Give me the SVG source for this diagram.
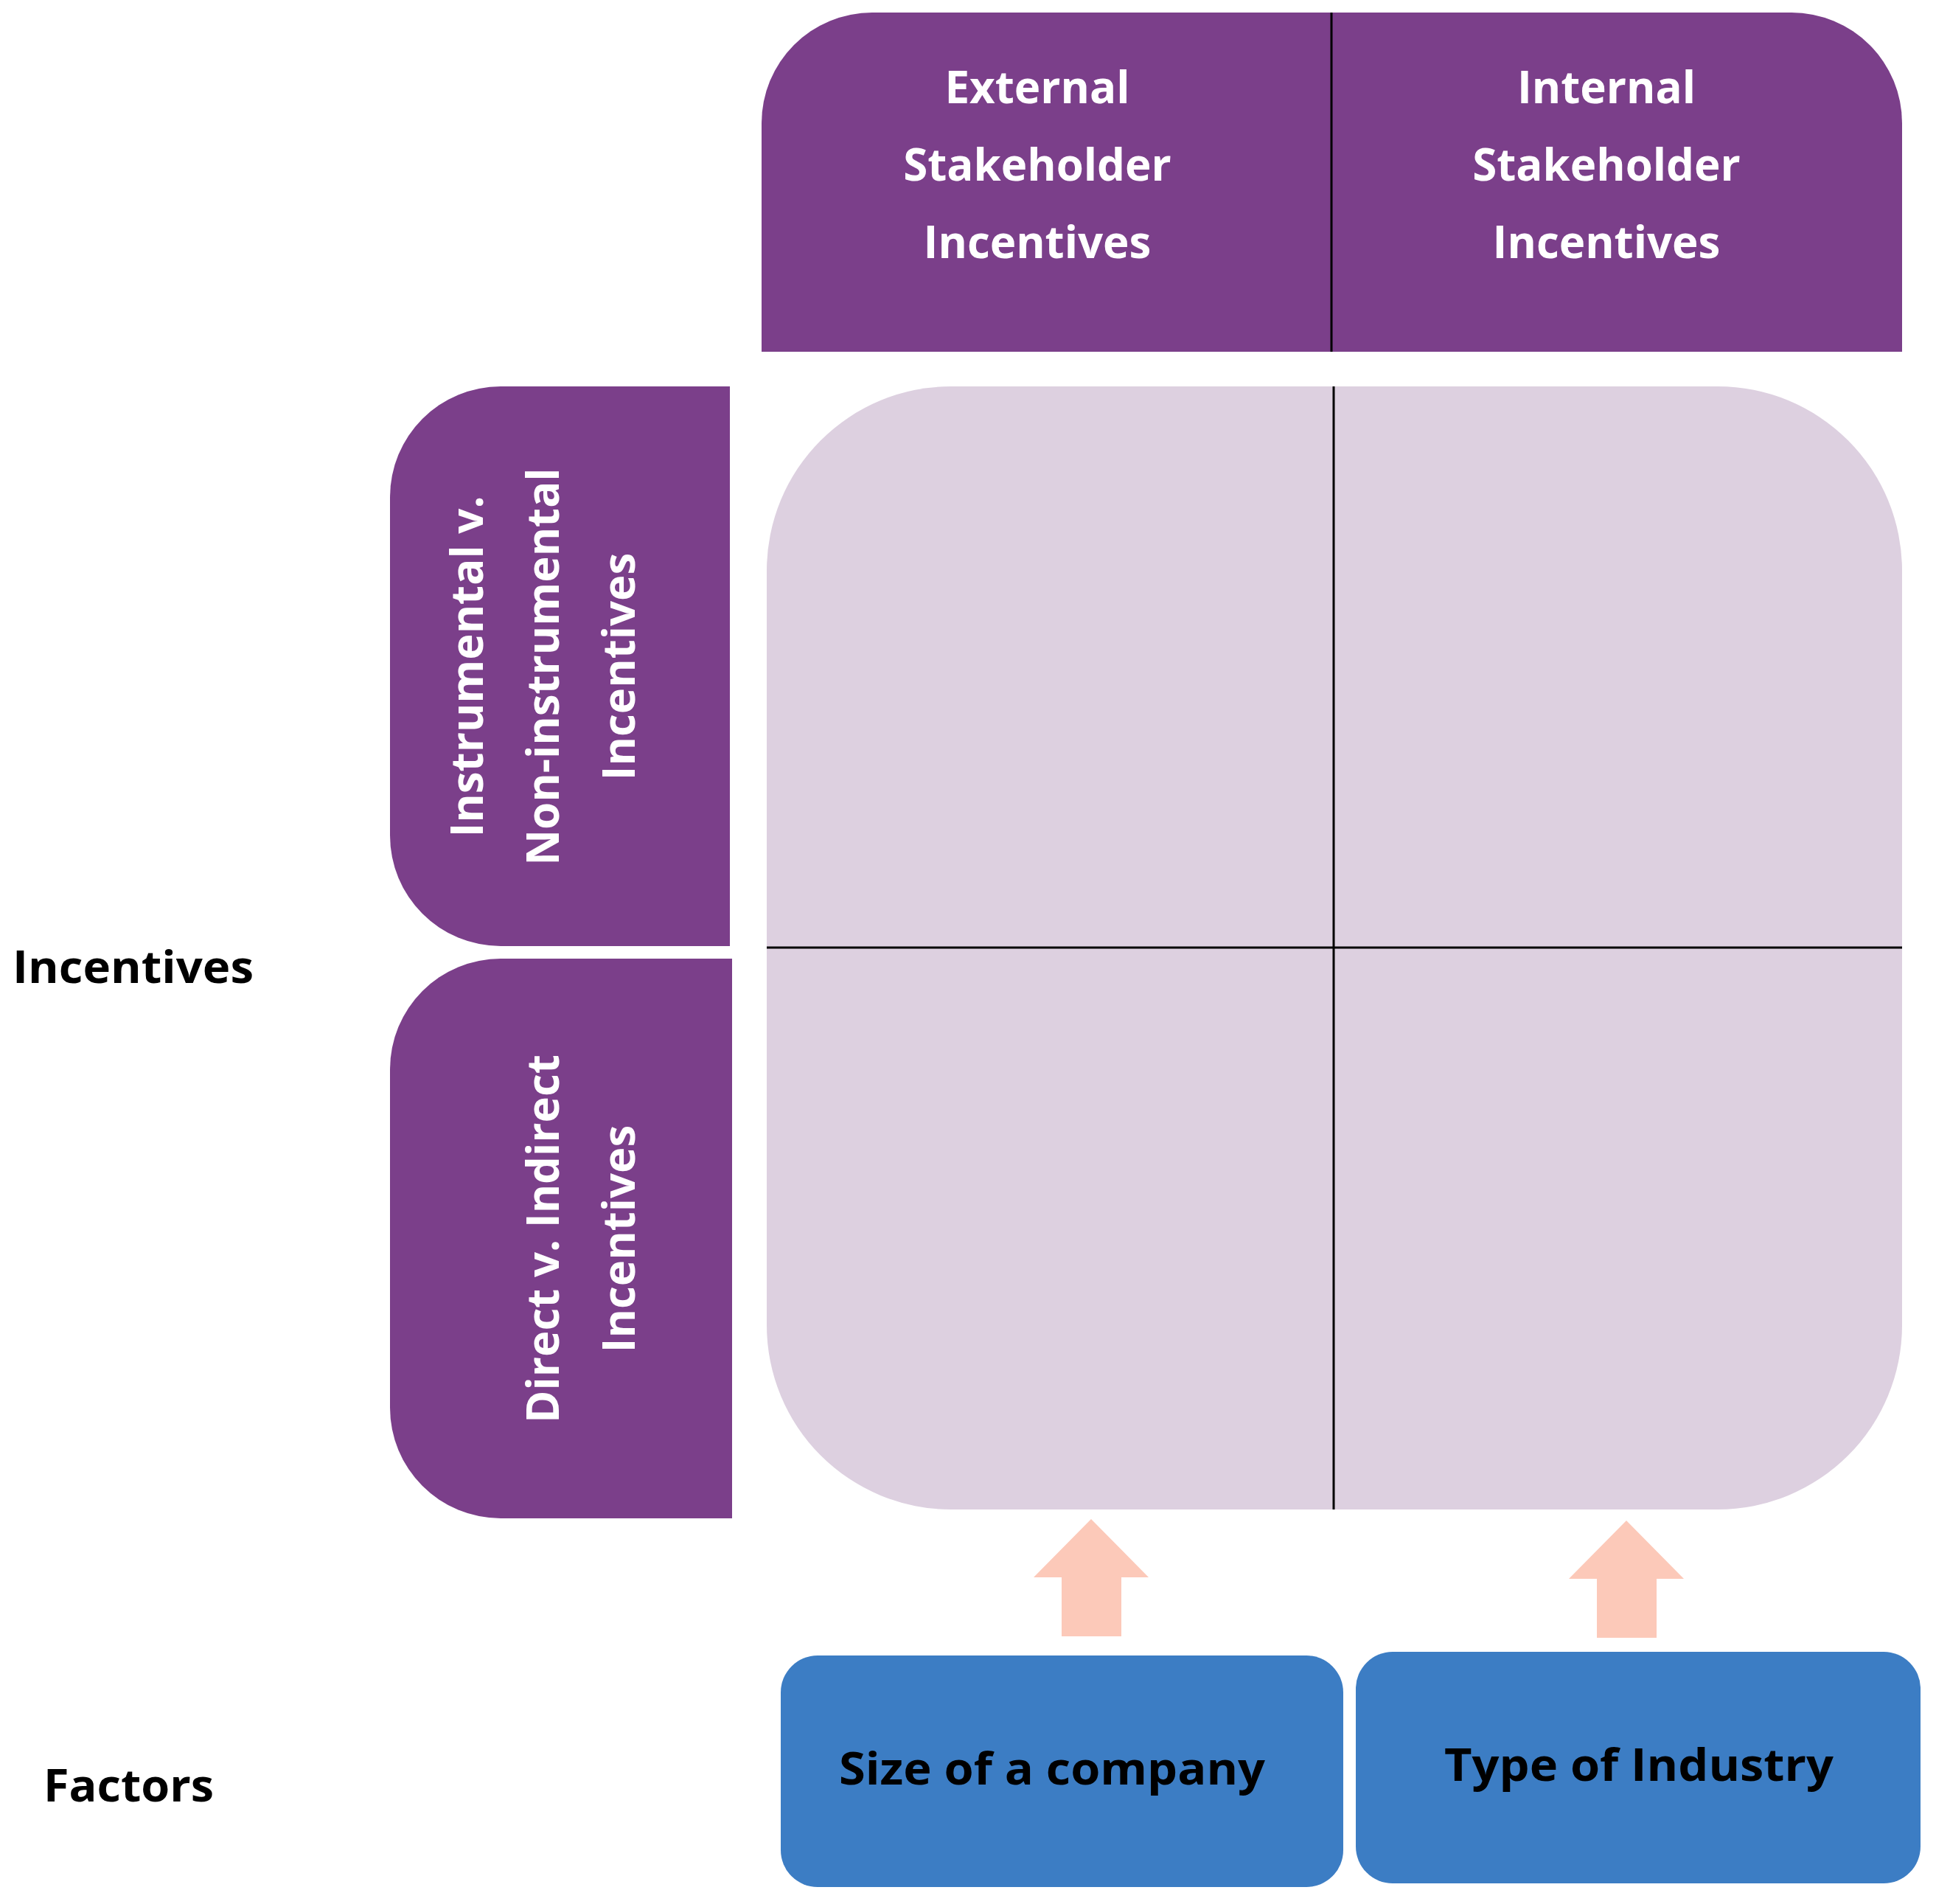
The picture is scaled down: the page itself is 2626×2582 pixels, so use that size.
<svg xmlns="http://www.w3.org/2000/svg" width="2626" height="2582" viewBox="0 0 2626 2582">
<style>
.p{fill:#7B3F8A}
.t{font-family:"Open Sans","Liberation Sans",sans-serif;font-weight:bold}
.w{fill:#fff;font-size:60px;text-anchor:middle}
.k{fill:#000;font-size:60px}
.ln{stroke:#000;stroke-width:3}
</style>
<rect width="2626" height="2582" fill="#fff"/>
<g id="header">
<path class="p" d="M1033 477V167A150 150 0 0 1 1183 17H2430A150 150 0 0 1 2580 167V477Z"/>
<line class="ln" x1="1806" y1="17" x2="1806" y2="477"/>
<text class="t w" x="1407"><tspan x="1407" y="140">External</tspan><tspan x="1407" y="245">Stakeholder</tspan><tspan x="1407" y="350">Incentives</tspan></text>
<text class="t w"><tspan x="2179" y="140">Internal</tspan><tspan x="2179" y="245">Stakeholder</tspan><tspan x="2179" y="350">Incentives</tspan></text>
</g>
<g id="tab1">
<path class="p" d="M990 524V1283H679A150 150 0 0 1 529 1133V674A150 150 0 0 1 679 524Z"/>
<text class="t w" transform="translate(0 904) rotate(-90)"><tspan x="0" y="655">Instrumental v.</tspan><tspan x="0" y="758">Non-instrumental</tspan><tspan x="0" y="861">Incentives</tspan></text>
</g>
<g id="tab2">
<path class="p" d="M993 1300V2059H679A150 150 0 0 1 529 1909V1450A150 150 0 0 1 679 1300Z"/>
<text class="t w" transform="translate(0 1680) rotate(-90)"><tspan x="0" y="758">Direct v. Indirect</tspan><tspan x="0" y="861">Incentives</tspan></text>
</g>
<g id="grid">
<rect x="1040" y="524" width="1540" height="1523" rx="250" fill="#DDD0E0"/>
<line class="ln" x1="1809" y1="524" x2="1809" y2="2047"/>
<line class="ln" x1="1040" y1="1285" x2="2580" y2="1285"/>
</g>
<g id="connectors" fill="#FCC9B9">
<polygon points="1480,2060 1558,2139 1521,2139 1521,2219 1440,2219 1440,2139 1402,2139"/>
<polygon points="2206,2062 2284,2141 2247,2141 2247,2221 2166,2221 2166,2141 2128,2141"/>
</g>
<g id="size">
<rect x="1059" y="2245" width="763" height="314" rx="50" fill="#3C7DC4"/>
<text class="t k" x="1427" y="2420" text-anchor="middle" textLength="578" lengthAdjust="spacingAndGlyphs">Size of a company</text>
</g>
<g id="industry">
<rect x="1839" y="2240" width="766" height="314" rx="50" fill="#3C7DC4"/>
<text class="t k" x="2223" y="2415" text-anchor="middle" textLength="528" lengthAdjust="spacingAndGlyphs">Type of Industry</text>
</g>
<g id="labels">
<text class="t k" x="17" y="1333" textLength="327" lengthAdjust="spacingAndGlyphs">Incentives</text>
<text class="t k" x="59" y="2443" textLength="231" lengthAdjust="spacingAndGlyphs">Factors</text>
</g>
</svg>
